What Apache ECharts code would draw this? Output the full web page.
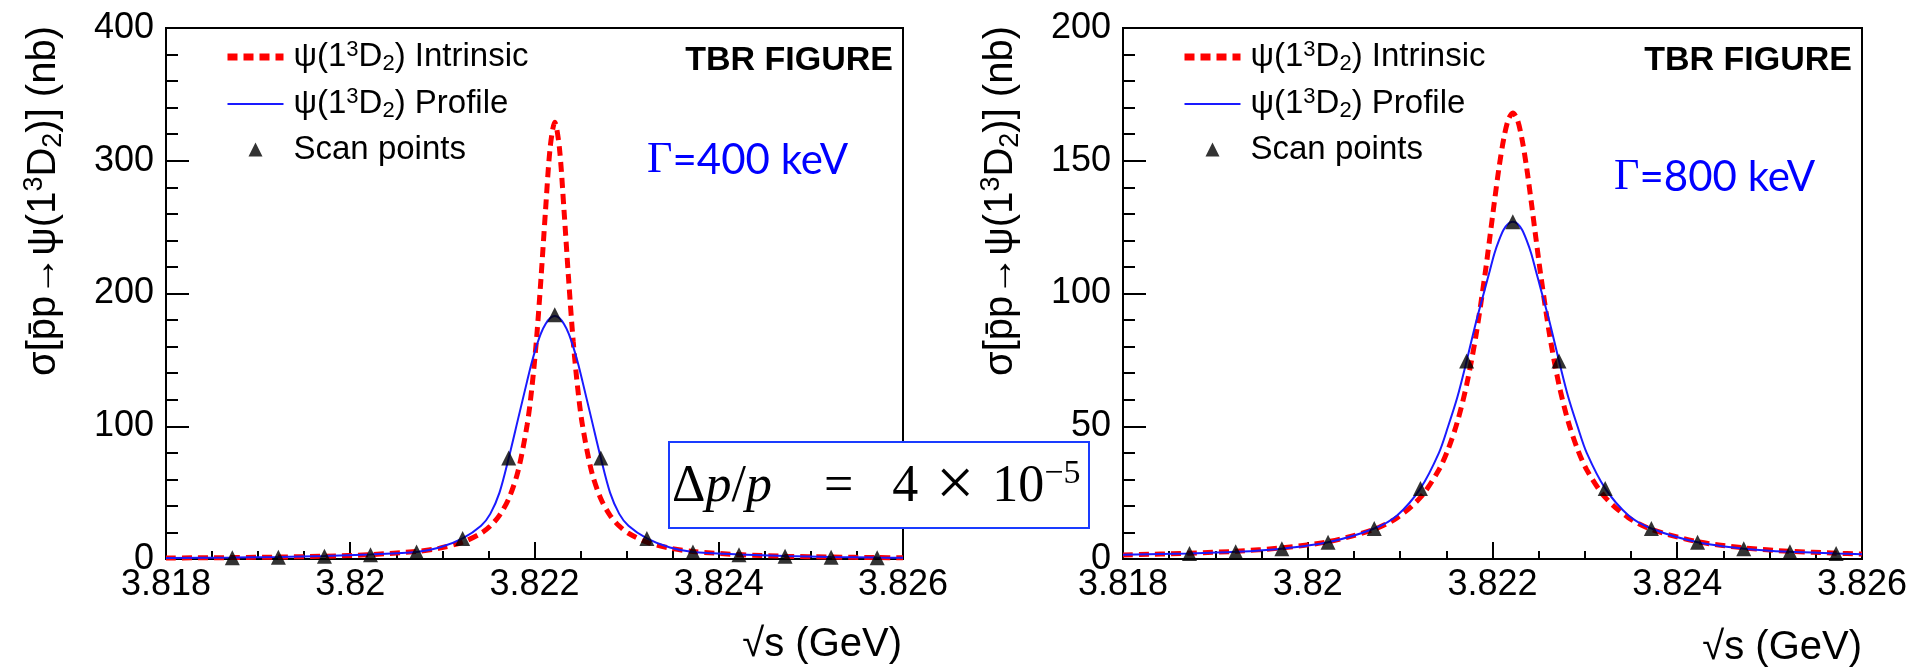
<!DOCTYPE html>
<html><head><meta charset="utf-8">
<script src="https://cdn.jsdelivr.net/npm/echarts@6/dist/echarts.min.js"></script>
<style>html,body{margin:0;padding:0;background:#fff}#c{width:1915px;height:671px}</style>
</head><body><div id="c"></div>
<script>
// ---- data ----
const curveX = [3.818, 3.81872, 3.81922, 3.81972, 3.82022, 3.82072, 3.82097, 3.82122, 3.82142, 3.82152, 3.82162, 3.82172, 3.82182, 3.82192, 3.82197, 3.82202, 3.82207, 3.82212, 3.82217, 3.82222, 3.82227, 3.82232, 3.82237, 3.82242, 3.82247, 3.82252, 3.82262, 3.82272, 3.82282, 3.82292, 3.82302, 3.82322, 3.82347, 3.82372, 3.82422, 3.82472, 3.82522, 3.82572, 3.826];
const intrinsic400 = [0.74, 1.07, 1.46, 2.1, 3.3, 5.7, 8.2, 12.7, 19.4, 24.8, 32.9, 45.4, 65.8, 101, 128, 164, 211, 263, 310, 329, 310, 263, 211, 164, 128, 101, 65.8, 45.4, 32.9, 24.8, 19.4, 12.7, 8.2, 5.7, 3.3, 2.1, 1.46, 1.07, 0.92];
const profile400 = [0.8, 1.1, 1.5, 2.2, 3.4, 5.3, 8.6, 15.5, 25, 34, 50, 76, 105, 134, 148, 160, 170, 177, 181.5, 183, 181.5, 177, 170, 160, 148, 134, 105, 76, 50, 34, 25, 15.5, 8.6, 5.3, 3.4, 2.2, 1.5, 1.1, 0.95];
const intrinsic800 = [1.5, 2.2, 2.9, 4.2, 6.5, 11.2, 15.6, 23.2, 33.6, 41.4, 51.7, 65.6, 84, 107.5, 120.8, 134.4, 147.3, 158, 165.4, 168, 165.4, 158, 147.3, 134.4, 120.8, 107.5, 84, 65.6, 51.7, 41.4, 33.6, 23.2, 15.6, 11.2, 6.5, 4.2, 2.9, 2.2, 1.86];
const profile800 = [1.6, 2.1, 2.7, 3.9, 6.3, 11.5, 16.5, 26.6, 40, 50, 61, 74.6, 89, 102, 108.5, 115, 120, 124, 126.3, 127, 126.3, 124, 120, 115, 108.5, 102, 89, 74.6, 61, 50, 40, 26.6, 16.5, 11.5, 6.3, 3.9, 2.7, 2.1, 1.8];
const scanX = [3.81872, 3.81922, 3.81972, 3.82022, 3.82072, 3.82122, 3.82172, 3.82222, 3.82272, 3.82322, 3.82372, 3.82422, 3.82472, 3.82522, 3.82572];
const scan400 = [1.0, 1.4, 2.0, 3.2, 5.2, 15.5, 76, 184, 76, 15.5, 5.2, 3.2, 2.0, 1.4, 1.0];
const scan800 = [2.1, 2.7, 3.9, 6.3, 11.5, 26.6, 74.6, 127, 74.6, 26.6, 11.5, 6.3, 3.9, 2.7, 2.1];
const xRange = [3.818, 3.826, 0.002];
const yRange400 = [0, 400, 100];
const yRange800 = [0, 200, 50];
const legendNames = ['Intrinsic', 'Profile', 'Scan points'];
const widthLabels = ['Γ', '=400 keV', '=800 keV'];

const zip = (xs, ys) => xs.map((x, i) => [x, ys[i]]);
const SANS = '"Liberation Sans", Arial, Helvetica, sans-serif';
const SERIF = '"Liberation Serif", "Times New Roman", serif';

const chart = echarts.init(document.getElementById('c'), null, {renderer: 'canvas'});

function xAxisCfg(gi) {
  return {
    type: 'value', gridIndex: gi, min: xRange[0], max: xRange[1], interval: xRange[2],
    axisLine: {show: true, onZero: false, lineStyle: {color: '#000', width: 2}},
    axisTick: {show: true, inside: true, length: 17, lineStyle: {color: '#000', width: 2}},
    minorTick: {show: true, splitNumber: 4, length: 8, lineStyle: {color: '#000', width: 2}},
    splitLine: {show: false},
    axisLabel: {margin: 8, color: '#000', fontFamily: SANS, fontSize: 36,
      formatter: v => String(+v.toFixed(3))}
  };
}
function yAxisCfg(gi, r) {
  return {
    type: 'value', gridIndex: gi, min: r[0], max: r[1], interval: r[2],
    axisLine: {show: true, lineStyle: {color: '#000', width: 2}},
    axisTick: {show: true, inside: true, length: 23, lineStyle: {color: '#000', width: 2}},
    minorTick: {show: true, splitNumber: 5, length: 12, lineStyle: {color: '#000', width: 2}},
    splitLine: {show: false},
    axisLabel: {margin: 12, color: '#000', fontFamily: SANS, fontSize: 36}
  };
}
const legendRich = {
  a: {fontFamily: SANS, fontSize: 33, lineHeight: 36, color: '#000'},
  sup: {fontFamily: SANS, fontSize: 22, lineHeight: 22, verticalAlign: 'top', color: '#000'},
  sub: {fontFamily: SANS, fontSize: 22, lineHeight: 22, verticalAlign: 'bottom', color: '#000'}
};
const triPath = 'path://M7,0 L14,14 L0,14 Z';
function legendCfg(left) {
  return {
    orient: 'vertical', left: left, top: 39, padding: 0,
    itemWidth: 56, itemHeight: 14, itemGap: 11, selectedMode: false, symbolKeepAspect: true,
    data: [
      {name: legendNames[0], itemStyle: {opacity: 0, borderWidth: 0}, lineStyle: {color: '#ff0000', width: 7, type: [10, 6]}},
      {name: legendNames[1], itemStyle: {opacity: 0, borderWidth: 0}, lineStyle: {color: '#1a1aff', width: 2}},
      {name: legendNames[2], icon: triPath}
    ],
    formatter: n => n === 'Scan points' ? '{a|' + n + '}' : '{a|ψ(1}{sup|3}{a|D}{sub|2}{a|) ' + n + '}',
    textStyle: {rich: legendRich, padding: [0, 0, 0, 5]}
  };
}
function seriesFor(gi, intr, prof, scan) {
  return [
    {name: 'Intrinsic', type: 'line', xAxisIndex: gi, yAxisIndex: gi, data: zip(curveX, intr),
     smooth: 0.3, symbol: 'none', z: 2, lineStyle: {color: '#ff0000', width: 5, type: [10, 6]}, itemStyle: {color: '#ff0000'}},
    {name: 'Profile', type: 'line', xAxisIndex: gi, yAxisIndex: gi, data: zip(curveX, prof),
     smooth: 0.3, symbol: 'none', z: 3, lineStyle: {color: '#1a1aff', width: 2}, itemStyle: {color: '#1a1aff'}},
    {name: 'Scan points', type: 'scatter', xAxisIndex: gi, yAxisIndex: gi, data: zip(scanX, scan),
     symbol: 'triangle', symbolSize: 15, z: 4, itemStyle: {color: '#000'}}
  ];
}
const titleRich = {
  a: {fontFamily: SANS, fontSize: 40, lineHeight: 46, fill: '#000'},
  sup: {fontFamily: SANS, fontSize: 27, lineHeight: 27, verticalAlign: 'top', fill: '#000'},
  sub: {fontFamily: SANS, fontSize: 27, lineHeight: 27, verticalAlign: 'bottom', fill: '#000'}
};
const yTitle = '{a|σ[p\u0304p→ψ(1}{sup|3}{a|D}{sub|2}{a|)] (nb)}';
const gRich = {
  g: {fontFamily: SERIF, fontSize: 44, fill: '#0000ff'},
  t: {fontFamily: 'Lato, "Open Sans", sans-serif', fontSize: 42, fill: '#0000ff'}
};
const boxRich = {
  n: {fontFamily: SERIF, fontSize: 52, lineHeight: 60, fill: '#000'},
  x: {fontFamily: SERIF, fontSize: 68, lineHeight: 60, fill: '#000', width: 74, align: 'center'},
  i: {fontFamily: SERIF, fontSize: 52, lineHeight: 60, fontStyle: 'italic', fill: '#000'},
  s: {fontFamily: SERIF, fontSize: 34, lineHeight: 34, verticalAlign: 'top', fill: '#000'}
};

chart.setOption({
  animation: false,
  backgroundColor: '#fff',
  grid: [
    {left: 166, top: 28, width: 737, height: 531, show: true, borderColor: '#000', borderWidth: 2, backgroundColor: 'transparent'},
    {left: 1123, top: 28, width: 739, height: 531, show: true, borderColor: '#000', borderWidth: 2, backgroundColor: 'transparent'}
  ],
  xAxis: [xAxisCfg(0), xAxisCfg(1)],
  yAxis: [yAxisCfg(0, yRange400), yAxisCfg(1, yRange800)],
  legend: [legendCfg(224), legendCfg(1181)],
  series: [].concat(seriesFor(0, intrinsic400, profile400, scan400), seriesFor(1, intrinsic800, profile800, scan800)),
  graphic: [
    {type: 'text', x: 44, y: 26, rotation: Math.PI / 2, z: 50,
     style: {text: yTitle, rich: titleRich, align: 'right', verticalAlign: 'middle'}},
    {type: 'text', x: 1001, y: 26, rotation: Math.PI / 2, z: 50,
     style: {text: yTitle, rich: titleRich, align: 'right', verticalAlign: 'middle'}},
    {type: 'text', x: 902, y: 645, z: 50,
     style: {text: '√s (GeV)', font: '40px ' + SANS, fill: '#000', align: 'right', verticalAlign: 'middle'}},
    {type: 'text', x: 1862, y: 648, z: 50,
     style: {text: '√s (GeV)', font: '40px ' + SANS, fill: '#000', align: 'right', verticalAlign: 'middle'}},
    {type: 'text', x: 893, y: 61, z: 50,
     style: {text: 'TBR FIGURE', font: 'bold 34px ' + SANS, fill: '#000', align: 'right', verticalAlign: 'middle'}},
    {type: 'text', x: 1852, y: 61, z: 50,
     style: {text: 'TBR FIGURE', font: 'bold 34px ' + SANS, fill: '#000', align: 'right', verticalAlign: 'middle'}},
    {type: 'text', x: 647, y: 160, z: 50,
     style: {text: '{g|' + widthLabels[0] + '}{t|' + widthLabels[1] + '}', rich: gRich, align: 'left', verticalAlign: 'middle'}},
    {type: 'text', x: 1614, y: 177, z: 50,
     style: {text: '{g|' + widthLabels[0] + '}{t|' + widthLabels[2] + '}', rich: gRich, align: 'left', verticalAlign: 'middle'}},
    {type: 'rect', z: 60, shape: {x: 669, y: 442, width: 420, height: 86},
     style: {fill: '#fff', stroke: '#1a3cff', lineWidth: 2}},
    {type: 'text', x: 672, y: 487, z: 61,
     style: {text: '{n|Δ}{i|p}{n|/}{i|p}{n|\u2003=\u2002 4}{x|×}{n|10}{s|−5}', rich: boxRich, align: 'left', verticalAlign: 'middle'}}
  ]
});
</script>
</body></html>
